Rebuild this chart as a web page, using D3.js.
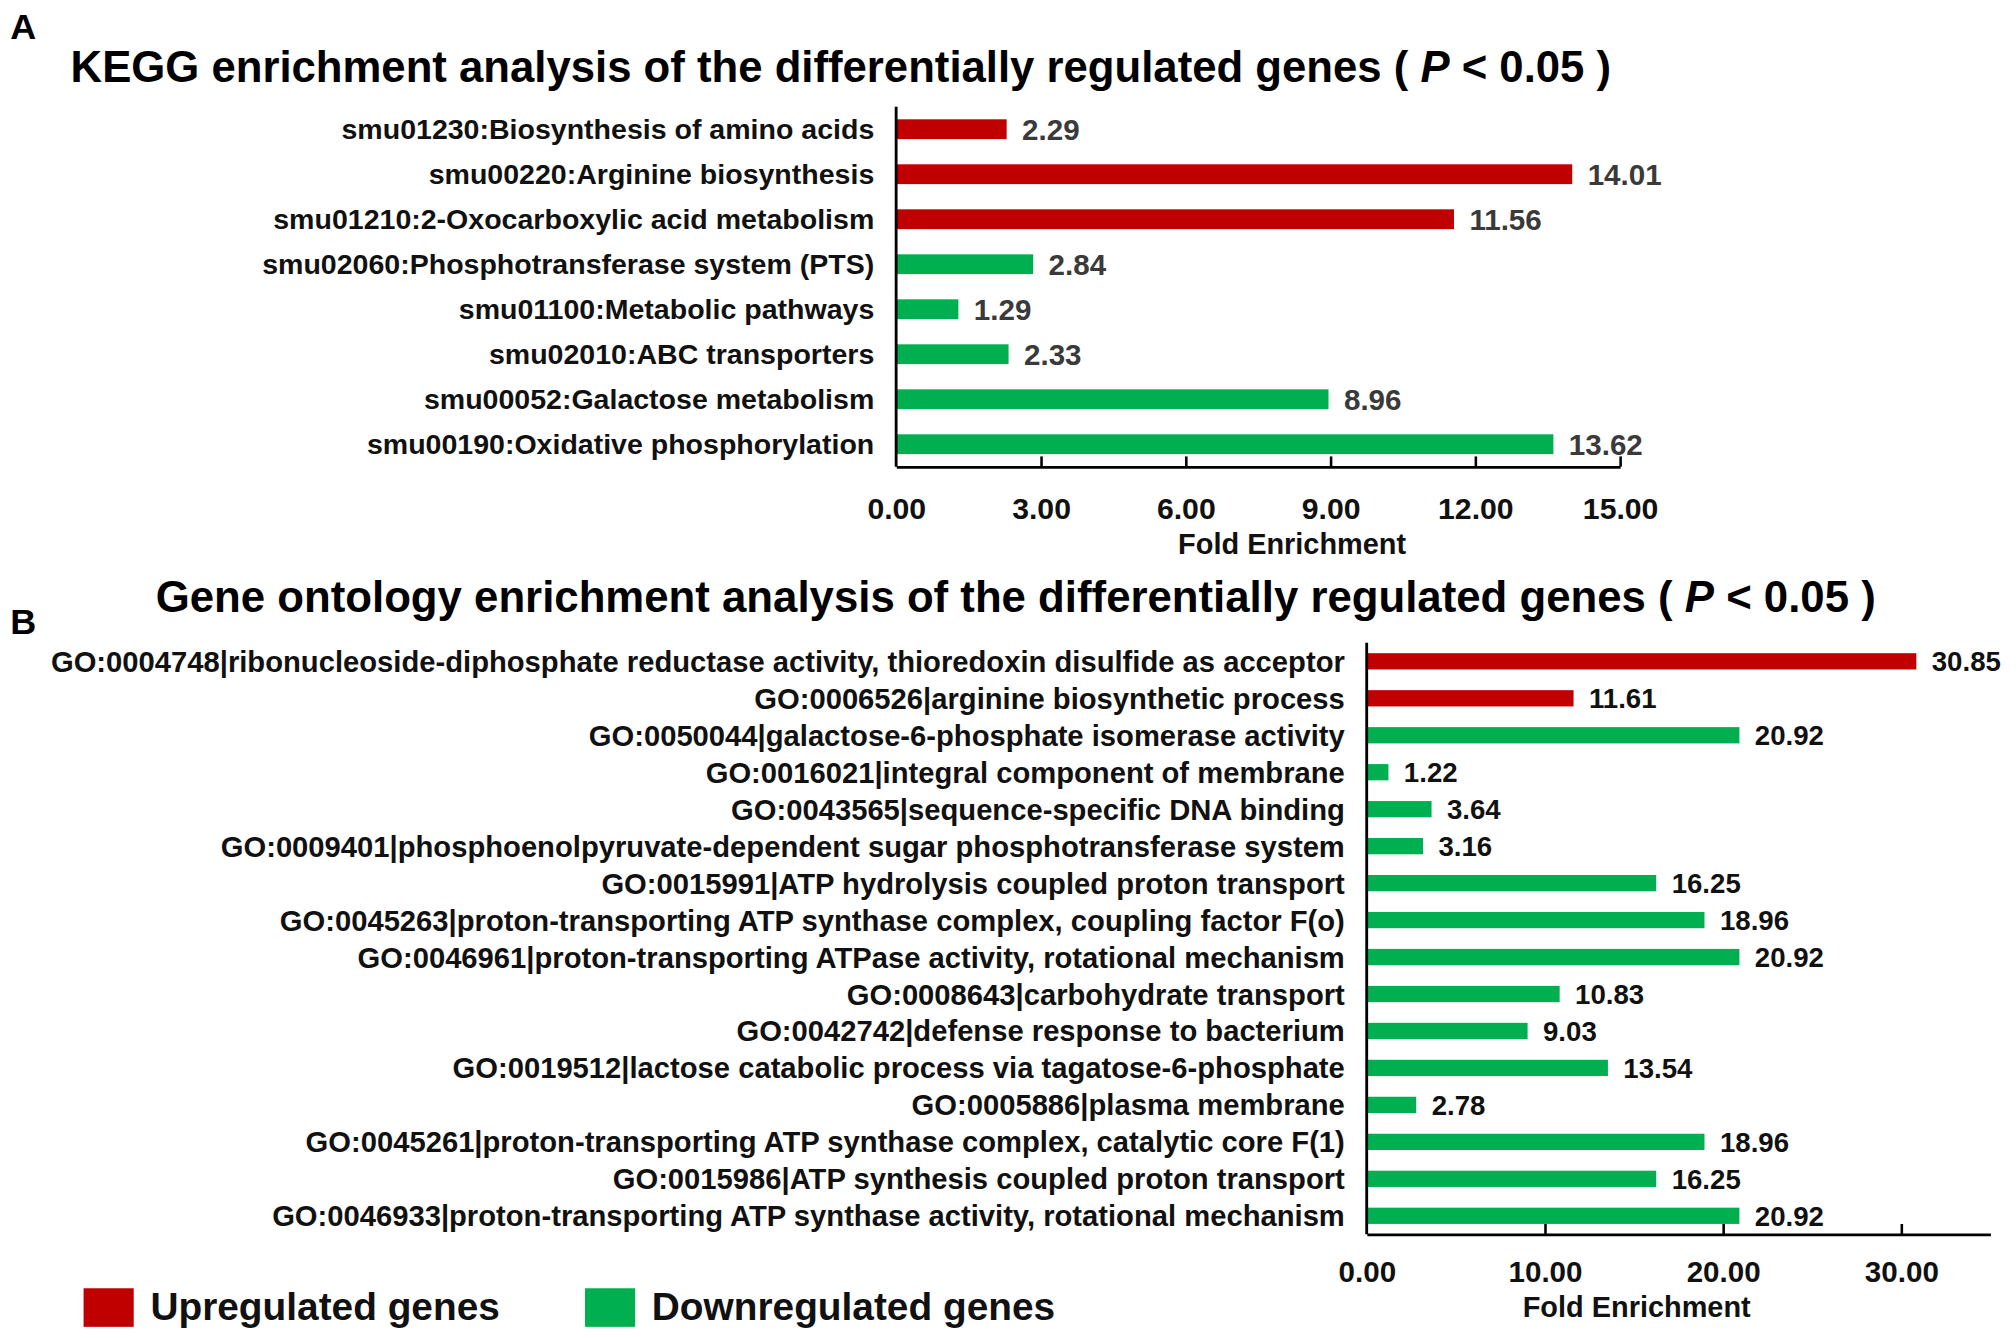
<!DOCTYPE html>
<html>
<head>
<meta charset="utf-8">
<script src="https://cdn.jsdelivr.net/npm/d3@7"></script>
<style>
  body { margin: 0; background: #fff; }
  text { font-family: "Liberation Sans", Arial, sans-serif; font-weight: bold; }
</style>
</head>
<body>
<svg id="chart" width="2016" height="1338"></svg>
<script>
// KEGG pathways (panel A)
const keggTerms = [
  "smu01230:Biosynthesis of amino acids",
  "smu00220:Arginine biosynthesis",
  "smu01210:2-Oxocarboxylic acid metabolism",
  "smu02060:Phosphotransferase system (PTS)",
  "smu01100:Metabolic pathways",
  "smu02010:ABC transporters",
  "smu00052:Galactose metabolism",
  "smu00190:Oxidative phosphorylation"
];
const keggValues = [2.29, 14.01, 11.56, 2.84, 1.29, 2.33, 8.96, 13.62];
const keggRegulation = ["up", "up", "up", "down", "down", "down", "down", "down"];
const keggTicks = [0, 3, 6, 9, 12, 15];

// GO terms (panel B)
const goTerms = [
  "GO:0004748|ribonucleoside-diphosphate reductase activity, thioredoxin disulfide as acceptor",
  "GO:0006526|arginine biosynthetic process",
  "GO:0050044|galactose-6-phosphate isomerase activity",
  "GO:0016021|integral component of membrane",
  "GO:0043565|sequence-specific DNA binding",
  "GO:0009401|phosphoenolpyruvate-dependent sugar phosphotransferase system",
  "GO:0015991|ATP hydrolysis coupled proton transport",
  "GO:0045263|proton-transporting ATP synthase complex, coupling factor F(o)",
  "GO:0046961|proton-transporting ATPase activity, rotational mechanism",
  "GO:0008643|carbohydrate transport",
  "GO:0042742|defense response to bacterium",
  "GO:0019512|lactose catabolic process via tagatose-6-phosphate",
  "GO:0005886|plasma membrane",
  "GO:0045261|proton-transporting ATP synthase complex, catalytic core F(1)",
  "GO:0015986|ATP synthesis coupled proton transport",
  "GO:0046933|proton-transporting ATP synthase activity, rotational mechanism"
];
const goValues = [30.85, 11.61, 20.92, 1.22, 3.64, 3.16, 16.25, 18.96, 20.92, 10.83, 9.03, 13.54, 2.78, 18.96, 16.25, 20.92];
const goRegulation = ["up", "up", "down", "down", "down", "down", "down", "down", "down", "down", "down", "down", "down", "down", "down", "down"];
const goTicks = [0, 10, 20, 30];

const legendLabels = ["Upregulated genes", "Downregulated genes"];

const color = d3.scaleOrdinal().domain(["up", "down"]).range(["#c00000", "#00b050"]);
const fmt = d3.format(".2f");

// work in the figure's own 1568-wide units, then scale up to the page
const svg = d3.select("#chart");
const root = svg.append("g").attr("transform", "scale(1.2857)");

// shrink/grow a text group so its widest member gets the wanted width
function fitWidth(sel, target) {
  let w = 0;
  sel.each(function() { w = Math.max(w, this.getComputedTextLength()); });
  const fs = parseFloat(sel.attr("font-size"));
  sel.attr("font-size", fs * target / w);
}

function titleText(x, y, pre, target) {
  const t = root.append("text")
      .attr("x", x).attr("y", y)
      .attr("text-anchor", "middle")
      .attr("font-size", 30);
  t.append("tspan").text(pre + " ( ");
  t.append("tspan").attr("font-style", "italic").text("P");
  t.append("tspan").text(" < 0.05 )");
  fitWidth(t, target);
}

function panel(opts) {
  const data = opts.terms.map((t, i) => ({term: t, value: opts.values[i], reg: opts.reg[i]}));
  const x = d3.scaleLinear().domain(opts.domain).range([opts.x0, opts.x1]);
  const y = d3.scaleBand().domain(opts.terms).range([opts.y0, opts.y1]).paddingInner(opts.pad).paddingOuter(opts.pad / 2);
  const g = root.append("g");

  g.selectAll("rect.bar")
    .data(data)
    .join("rect")
      .attr("class", "bar")
      .attr("x", x(0))
      .attr("y", d => y(d.term))
      .attr("width", d => x(d.value) - x(0))
      .attr("height", y.bandwidth())
      .attr("fill", d => color(d.reg));

  g.selectAll("text.val")
    .data(data)
    .join("text")
      .attr("class", "val")
      .attr("x", d => x(d.value) + opts.valGap)
      .attr("y", d => y(d.term) + y.bandwidth() / 2)
      .attr("dy", "0.36em")
      .attr("font-size", opts.valSize)
      .attr("fill", opts.valColor)
      .text(d => fmt(d.value));

  const labels = g.selectAll("text.lab")
    .data(data)
    .join("text")
      .attr("class", "lab")
      .attr("x", opts.x0 - 17)
      .attr("y", d => y(d.term) + y.bandwidth() / 2)
      .attr("dy", "0.36em")
      .attr("text-anchor", "end")
      .attr("font-size", 18)
      .attr("fill", "#111")
      .text(d => d.term);
  fitWidth(labels, opts.labelWidth);

  // y axis line
  g.append("line")
    .attr("x1", opts.x0).attr("x2", opts.x0)
    .attr("y1", opts.y0).attr("y2", opts.y1)
    .attr("stroke", "#000").attr("stroke-width", 2.2);

  const ax = g.append("g")
    .attr("transform", `translate(0,${opts.y1})`)
    .call(d3.axisBottom(x).tickValues(opts.ticks).tickFormat(fmt).tickSizeInner(-8).tickSizeOuter(0).tickPadding(opts.tickPad));
  ax.select(".domain").attr("stroke", "#000").attr("stroke-width", 2.2);
  ax.selectAll(".tick line").attr("stroke", "#000").attr("stroke-width", 2);
  ax.selectAll(".tick").filter(d => d === 0).select("line").remove();
  ax.selectAll(".tick text")
    .attr("font-size", opts.tickSize)
    .attr("font-family", "Liberation Sans, Arial, sans-serif")
    .attr("font-weight", "bold")
    .attr("fill", "#111");

  g.append("text")
    .attr("x", opts.titleX).attr("y", opts.y1 + opts.xTitleDy)
    .attr("text-anchor", "middle")
    .attr("font-size", opts.xTitleSize)
    .attr("fill", "#111")
    .text("Fold Enrichment");
}

// panel letters
root.append("text").attr("x", 8).attr("y", 30).attr("font-size", 28).text("A");
root.append("text").attr("x", 8).attr("y", 493).attr("font-size", 28).text("B");

titleText(654, 64, "KEGG enrichment analysis of the differentially regulated genes", 1198);
titleText(790, 476, "Gene ontology enrichment analysis of the differentially regulated genes", 1338);

panel({
  terms: keggTerms, values: keggValues, reg: keggRegulation,
  domain: [0, 15], x0: 697, x1: 1260, y0: 83, y1: 363, pad: 0.56,
  ticks: keggTicks, tickPad: 24, tickSize: 23.5,
  valGap: 12, valSize: 23, valColor: "#3a3a3a",
  labelWidth: 476, titleX: 1005, xTitleDy: 68, xTitleSize: 22.5
});

panel({
  terms: goTerms, values: goValues, reg: goRegulation,
  domain: [0, 35], x0: 1063, x1: 1548, y0: 500, y1: 960, pad: 0.56,
  ticks: goTicks, tickPad: 21, tickSize: 23,
  valGap: 12, valSize: 21.5, valColor: "#111",
  labelWidth: 1006, titleX: 1273, xTitleDy: 64, xTitleSize: 22.5
});

// legend
const leg = root.append("g").attr("transform", "translate(65,1002)");
const legItems = leg.selectAll("g")
  .data(legendLabels)
  .join("g")
    .attr("transform", (d, i) => `translate(${i * 390},0)`);
legItems.append("rect")
  .attr("width", 39).attr("height", 30)
  .attr("fill", (d, i) => color(i === 0 ? "up" : "down"));
legItems.append("text")
  .attr("x", 52).attr("y", 25)
  .attr("font-size", 30.2)
  .attr("fill", "#111")
  .text(d => d);
</script>
</body>
</html>
